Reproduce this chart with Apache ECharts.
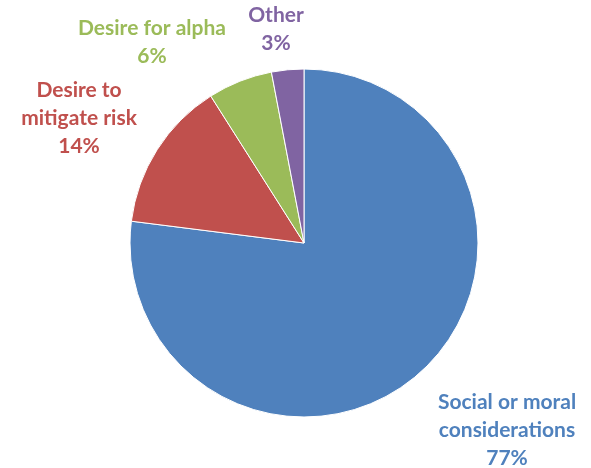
<!DOCTYPE html>
<html>
<head>
<meta charset="utf-8">
<script src="https://cdn.jsdelivr.net/npm/echarts@6/dist/echarts.min.js"></script>
<style>
  html, body { margin: 0; padding: 0; background: #fff; }
  #chart { width: 591px; height: 468px; }
</style>
</head>
<body>
<div id="chart"></div>
<script>
const names = ['Social or moral\nconsiderations', 'Desire to\nmitigate risk', 'Desire for alpha', 'Other'];
const values = [77, 14, 6, 3];
const colors = ['#4F81BD', '#C0504D', '#9BBB59', '#8064A2'];

// label block centres (px)
const labelPos = [[507, 430], [79, 118], [152, 42], [276, 29]];

const chart = echarts.init(document.getElementById('chart'));
chart.setOption({
    animation: false,
    series: [{
        type: 'pie',
        center: [304, 243],
        radius: 174,
        startAngle: 90,
        clockwise: true,
        itemStyle: { borderColor: '#fff', borderWidth: 1 },
        label: {
            show: true,
            position: 'outside',
            formatter: '{b}\n{c}%',
            fontFamily: 'Lato',
            fontWeight: 'bold',
            fontSize: 21,
            lineHeight: 28,
            align: 'center',
            overflow: 'none',
            width: 300
        },
        labelLine: { show: false },
        labelLayout: params => ({
            x: labelPos[params.dataIndex][0],
            y: labelPos[params.dataIndex][1],
            align: 'center',
            verticalAlign: 'middle'
        }),
        data: names.map((n, i) => ({
            name: n,
            value: values[i],
            itemStyle: { color: colors[i] },
            label: { color: colors[i] }
        }))
    }]
});
</script>
</body>
</html>
